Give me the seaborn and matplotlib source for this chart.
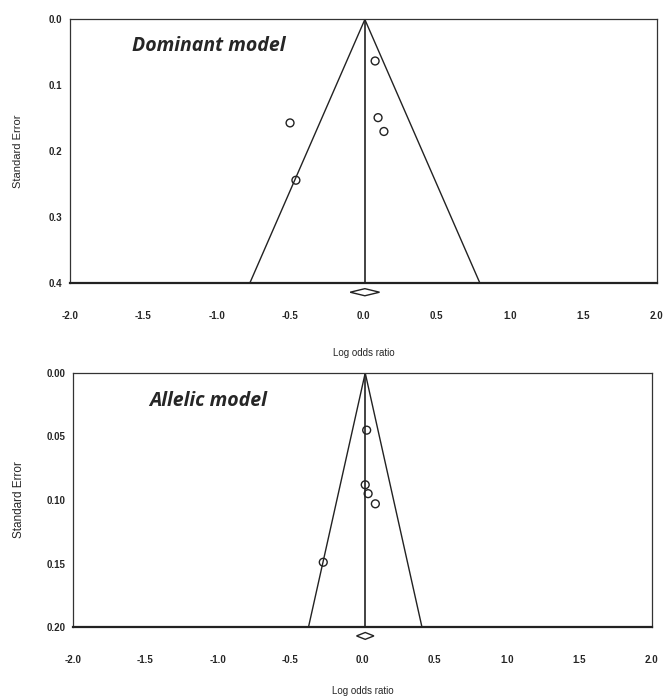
import numpy as np
import pandas as pd
import matplotlib
matplotlib.use("Agg")
import matplotlib.pyplot as plt
import seaborn as sns

# study estimates
dom_lor = [0.08, -0.50, 0.10, 0.14, -0.46]
dom_se = [0.063, 0.157, 0.149, 0.170, 0.244]
dom_pooled = 0.01
dom_ci = 0.10
dom_se_max = 0.4

all_lor = [0.03, 0.02, 0.04, 0.09, -0.27]
all_se = [0.045, 0.088, 0.095, 0.103, 0.149]
all_pooled = 0.02
all_ci = 0.06
all_se_max = 0.2

x_ticks = [-2.0, -1.5, -1.0, -0.5, 0.0, 0.5, 1.0, 1.5, 2.0]

sns.set_style("white")
plt.rcParams['font.family'] = ['Liberation Sans', 'DejaVu Sans']

fig = plt.figure(figsize=(6.63, 6.96), dpi=100)
ax1 = fig.add_axes([0.1056, 0.5934, 0.885, 0.3786])
ax2 = fig.add_axes([0.110, 0.0991, 0.873, 0.365])


def funnel(ax, lor, se, pooled, ci, se_max, yticks, yfmt, title, title_xy,
           xlabelpad, ylabel_x, ylabel_size):
    df = pd.DataFrame({'lor': lor, 'se': se})
    # pseudo 95% confidence limits
    ax.plot([pooled - 1.96 * se_max, pooled, pooled + 1.96 * se_max],
            [se_max, 0, se_max], color='#222222', lw=1.0)
    ax.plot([pooled, pooled], [0, se_max], color='#222222', lw=1.2)
    sns.scatterplot(data=df, x='lor', y='se', ax=ax, marker='o', s=32,
                    facecolor='none', edgecolor='#222222', linewidth=1.0)
    # pooled estimate diamond under the axis
    h = se_max * 0.0135
    yc = se_max * 1.035
    ax.fill([pooled - ci, pooled, pooled + ci, pooled],
            [yc, yc - h, yc, yc + h], facecolor='white',
            edgecolor='#222222', lw=1.0, clip_on=False, zorder=5)
    ax.set_xlim(-2.0, 2.0)
    ax.set_ylim(se_max, 0)
    ax.set_xticks(x_ticks)
    ax.set_xticklabels([f"{t:.1f}" for t in x_ticks])
    ax.set_yticks(yticks)
    ax.set_yticklabels([yfmt.format(t) for t in yticks])
    ax.tick_params(axis='x', direction='inout', length=5, width=1.0,
                   labelsize=7, pad=18)
    ax.tick_params(axis='y', direction='inout', length=3, width=0.8,
                   labelsize=7, pad=4)
    for lab in ax.get_xticklabels() + ax.get_yticklabels():
        lab.set_fontweight('bold')
    for side in ['top', 'left', 'right']:
        ax.spines[side].set_linewidth(0.9)
        ax.spines[side].set_color('#333333')
    ax.spines['bottom'].set_linewidth(1.6)
    ax.spines['bottom'].set_color('#222222')
    ax.set_xlabel('Log odds ratio', fontsize=7, labelpad=xlabelpad)
    ax.set_ylabel('Standard Error', fontsize=ylabel_size)
    ax.yaxis.set_label_coords(ylabel_x, 0.5)
    ax.text(title_xy[0], title_xy[1], title, fontsize=14, fontweight='bold',
            fontstyle='italic', family=['Open Sans', 'DejaVu Sans'],
            va='center', ha='left')


funnel(ax1, dom_lor, dom_se, dom_pooled, dom_ci, dom_se_max,
       [0.0, 0.1, 0.2, 0.3, 0.4], "{:.1f}", 'Dominant model', (-1.58, 0.04),
       19, -0.080, 8)
funnel(ax2, all_lor, all_se, all_pooled, all_ci, all_se_max,
       [0.00, 0.05, 0.10, 0.15, 0.20], "{:.2f}", 'Allelic model', (-1.47, 0.022),
       15, -0.082, 8.5)

fig.savefig('out.png', dpi=100)
